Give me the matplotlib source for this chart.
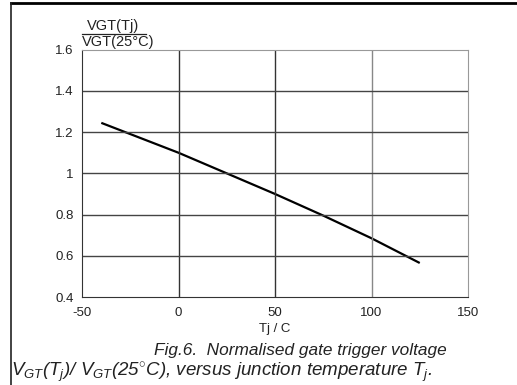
import matplotlib
matplotlib.use('Agg')
import matplotlib.pyplot as plt
from matplotlib.lines import Line2D

plt.rcParams['font.family'] = ['Liberation Sans', 'DejaVu Sans']
plt.rcParams['mathtext.fontset'] = 'custom'
plt.rcParams['mathtext.rm'] = 'Liberation Sans:italic'
plt.rcParams['mathtext.it'] = 'Liberation Sans:italic'

# ratio curve
tj = [-40, 0, 25, 50, 75, 100, 125]
ratio = [1.245, 1.10, 1.0, 0.90, 0.795, 0.685, 0.565]

x_ticks = [-50, 0, 50, 100, 150]
x_labels = ['-50', '0', '50', '100', '150']
y_ticks = [0.4, 0.6, 0.8, 1.0, 1.2, 1.4, 1.6]
y_labels = ['0.4', '0.6', '0.8', '1', '1.2', '1.4', '1.6']

fig = plt.figure(figsize=(5.17, 3.85), dpi=100)
ax = fig.add_axes([82/517, 1-297/385, (468-82)/517, (297-49.7)/385])

ax.plot(tj, ratio, color='black', lw=1.6, solid_capstyle='butt')
ax.set_xlim(-50, 150)
ax.set_ylim(0.4, 1.6)
ax.set_xticks(x_ticks)
ax.set_yticks(y_ticks)
ax.set_xticklabels(x_labels, fontsize=9.5, color='#222')
ax.set_yticklabels(y_labels, fontsize=9.5, color='#222')
ax.tick_params(axis='x', length=0, pad=7)
ax.tick_params(axis='y', length=0, pad=6)

for xv, c in [(0, '#333'), (50, '#333'), (100, '#888')]:
    ax.axvline(xv, color=c, lw=1.0)
for yv in y_ticks[1:-1]:
    ax.axhline(yv, color='#444', lw=1.0)

for s in ['left', 'bottom']:
    ax.spines[s].set_color('#333')
for s in ['top', 'right']:
    ax.spines[s].set_color('#999')

ax.set_xlabel('Tj / C', fontsize=9.5, labelpad=3, color='#222')

# y axis title as a fraction
fig.text(113/517, 1-26/385, 'VGT(Tj)', fontsize=10.5, ha='center', va='center', color='#222')
fig.text(118/517, 1-42/385, 'VGT(25°C)', fontsize=10.5, ha='center', va='center', color='#222')
fig.add_artist(Line2D([82/517, 146/517], [1-34/385, 1-34/385], color='#222', lw=0.9))

# caption
fig.text(300/517, 1-350/385, 'Fig.6.  Normalised gate trigger voltage', fontsize=12.4,
         style='italic', ha='center', va='center', color='#222')
fig.text(222/517, 1-373/385,
         r'$V_{GT}(T_j)$/ $V_{GT}(25^{\circ}C)$, versus junction temperature $T_j$.',
         fontsize=13.5, style='italic', ha='center', va='center', color='#222')

# page border
fig.add_artist(Line2D([11/517, 1], [1-3/385, 1-3/385], color='black', lw=2))
fig.add_artist(Line2D([11/517, 11/517], [0, 1-3/385], color='#222', lw=1.2))

fig.savefig('out.png', dpi=100)
